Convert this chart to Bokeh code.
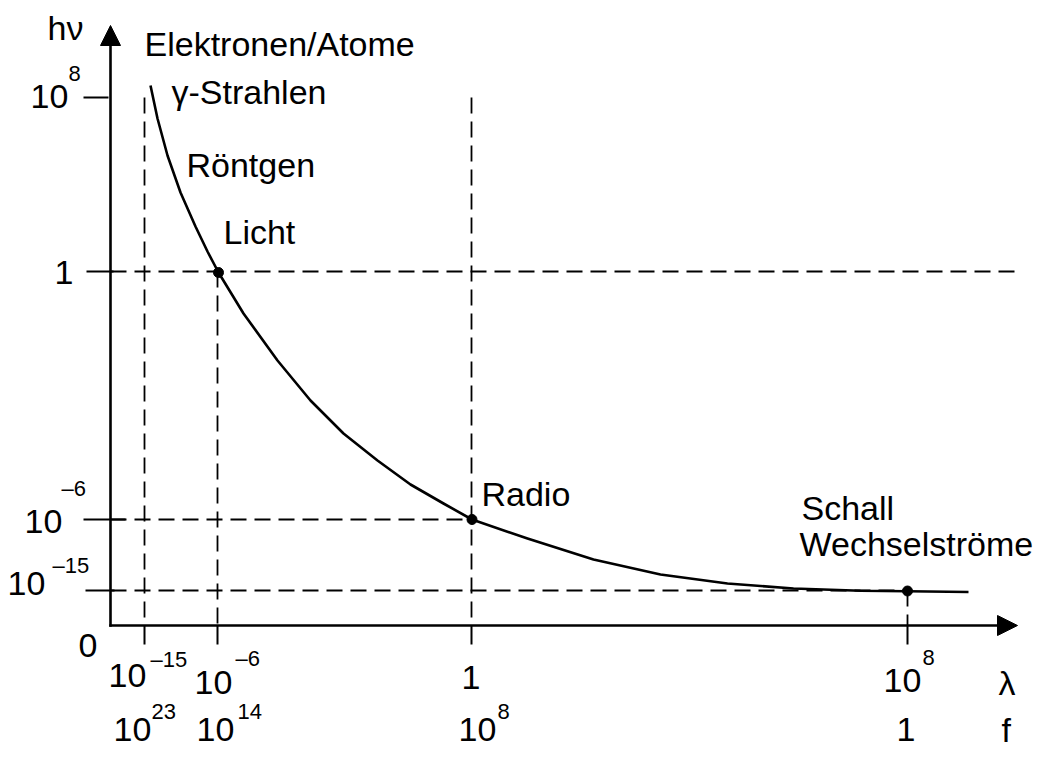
from bokeh.plotting import figure
from bokeh.models import Range1d, ColumnDataSource, Arrow, NormalHead
from bokeh.embed import file_html
from bokeh.resources import INLINE
from bokeh.core.properties import value

# ---------------- data ----------------
# wavelength axis tick labels (mantissa, exponent)
wavelength_labels = [("10", "\u201315"), ("10", "\u20136"), ("1", ""), ("10", "8")]
# frequency tick labels under the same ticks
frequency_labels = [("10", "23"), ("10", "14"), ("10", "8"), ("1", "")]
# energy axis tick labels
energy_labels = [("10", "8"), ("1", ""), ("10", "\u20136"), ("10", "\u201315")]
region_names = ["Elektronen/Atome", "\u03b3-Strahlen", "R\u00f6ntgen", "Licht",
                "Radio", "Schall", "Wechselstr\u00f6me"]
axis_titles = ["h\u03bd", "\u03bb", "f"]

# curve, in schematic plot units (x: wavelength position, y: energy position)
curve_x = [150, 157, 167, 180, 195, 207, 218, 243, 277, 310, 343, 377, 410,
           443, 471.5, 527, 593, 660, 727, 793, 860, 907, 968]
curve_y = [85, 118, 155, 192, 226, 251, 272, 313, 360, 400, 433, 460, 484,
           503, 519, 538, 559, 574, 583, 588, 590.3, 590.8, 591.5]
# marked points: Licht, Radio, Schall
marked_x = [218, 471.5, 907]
marked_y = [272, 519, 590.5]

# ---------------- layout of the schematic axes ----------------
X0, Y0 = 110, 625           # origin
X_TIP, Y_TIP = 1017, 25     # arrow tips
lam_pos = [144, 217, 471, 907]      # tick positions along wavelength axis
en_pos = [97, 271, 519, 590]        # tick positions along energy axis

FONT = value("Liberation Sans")
BIG = value("34px")
SMALL = value("22px")

p = figure(width=1034, height=749, output_backend="svg", toolbar_location=None,
           title=None,
           x_range=Range1d(0, 1034), y_range=Range1d(749, 0),
           x_axis_type=None, y_axis_type=None, min_border=0)
p.grid.visible = False
p.outline_line_color = None
p.background_fill_color = "white"
p.border_fill_color = "white"

# dashed guide lines
DASH = "16 8"
guides_x = [[lam_pos[0], lam_pos[0]], [lam_pos[1], lam_pos[1]], [lam_pos[2], lam_pos[2]],
            [lam_pos[3], lam_pos[3]],
            [X0, 1015], [X0, lam_pos[2]], [X0, lam_pos[3]]]
guides_y = [[en_pos[0], Y0], [en_pos[1], Y0], [en_pos[0], Y0], [en_pos[3], Y0],
            [en_pos[1], en_pos[1]], [en_pos[2], en_pos[2]], [en_pos[3], en_pos[3]]]
p.multi_line(xs=guides_x, ys=guides_y, line_color="black", line_width=1.8,
             line_dash=DASH)

# tick marks
tick_xs = [[x, x] for x in lam_pos]
tick_ys = [[Y0, 644] for _ in lam_pos]
ytick_left = [83, 86, 83, 85]
ytick_right = [108, 113, 125, 114]
tick_xs += [[a, b] for a, b in zip(ytick_left, ytick_right)]
tick_ys += [[y, y] for y in en_pos]
p.multi_line(xs=tick_xs, ys=tick_ys, line_color="black", line_width=2)

# axes with arrows
head = dict(size=20, fill_color="black", line_color="black", line_width=1)
p.add_layout(Arrow(end=NormalHead(**head), x_start=X0, y_start=Y0 + 1.2,
                   x_end=X0, y_end=Y_TIP, line_width=2.6, line_color="black"))
p.add_layout(Arrow(end=NormalHead(**head), x_start=X0 - 1.2, y_start=Y0,
                   x_end=X_TIP, y_end=Y0, line_width=2.6, line_color="black"))

# curve and points
p.line(curve_x, curve_y, line_color="black", line_width=2.6, line_join="round")
p.scatter(marked_x, marked_y, size=10, color="black")

# ---------------- texts (y = vertical centre of the capitals/digits) ----------------
def add_texts(xs, ys, texts, size):
    src = ColumnDataSource(dict(x=xs, y=ys, text=texts))
    p.text(x="x", y="y", text="text", source=src, text_font=FONT,
           text_font_size=size, text_color="black",
           text_align="left", text_baseline="middle")

# region names
add_texts([144, 171, 186, 223, 481, 801, 799],
          [43, 91, 164, 231, 493, 507, 543], region_names, BIG)

# energy tick labels
e_base_x = [30, 54, 24, 7]
e_base_y = [96, 272, 521, 583]
e_exp_x = [68, 0, 61, 52]
e_exp_y = [72.5, 0, 487.5, 564.5]
add_texts(e_base_x, e_base_y, [m for m, _ in energy_labels], BIG)
add_texts([x for x, (_, e) in zip(e_exp_x, energy_labels) if e],
          [y for y, (_, e) in zip(e_exp_y, energy_labels) if e],
          [e for _, e in energy_labels if e], SMALL)

# wavelength tick labels
w_base_x = [108, 194, 461, 883]
w_base_y = [675, 681.5, 676.5, 679.5]
w_exp_x = [150, 235, 0, 922]
w_exp_y = [658.5, 657.5, 0, 656.5]
add_texts(w_base_x, w_base_y, [m for m, _ in wavelength_labels], BIG)
add_texts([x for x, (_, e) in zip(w_exp_x, wavelength_labels) if e],
          [y for y, (_, e) in zip(w_exp_y, wavelength_labels) if e],
          [e for _, e in wavelength_labels if e], SMALL)

# frequency tick labels
f_base_x = [113, 196, 458, 896]
f_base_y = [729, 729, 729, 729]
f_exp_x = [151, 237, 497, 0]
f_exp_y = [711, 711, 711, 0]
add_texts(f_base_x, f_base_y, [m for m, _ in frequency_labels], BIG)
add_texts([x for x, (_, e) in zip(f_exp_x, frequency_labels) if e],
          [y for y, (_, e) in zip(f_exp_y, frequency_labels) if e],
          [e for _, e in frequency_labels if e], SMALL)

# origin and axis titles
add_texts([78], [645], ["0"], BIG)
add_texts([47, 998, 1001], [27, 682, 729], axis_titles, BIG)

open("out.html", "w").write(file_html(p, INLINE))
